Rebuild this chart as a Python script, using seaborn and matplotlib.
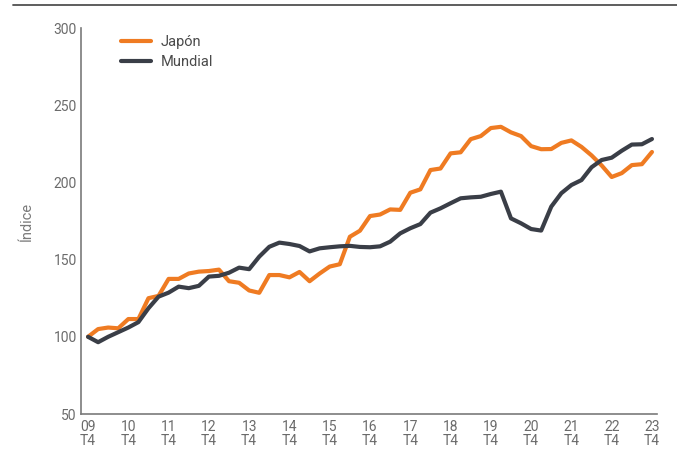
import matplotlib
matplotlib.use("Agg")
import matplotlib.pyplot as plt
import seaborn as sns
import pandas as pd
import numpy as np

years = ["09", "10", "11", "12", "13", "14", "15", "16", "17", "18", "19", "20", "21", "22", "23"]
tick_labels = [f"{y}\nT4" for y in years]

japon = [100, 105, 106, 105.5, 111.5, 111.5, 125, 126.5, 137.5, 137.5,
         141, 142.2, 142.6, 143.5, 136, 135, 130, 128.5, 140, 140,
         138.5, 142, 136, 141, 145.5, 147, 164.8, 168.7, 178.2, 179.2,
         182.5, 182.2, 193.3, 195.5, 208, 209, 218.8, 219.5, 228, 230,
         235.2, 236, 232.4, 230, 223.5, 221.5, 221.6, 225.6, 227.2, 223,
         217.5, 211, 203.5, 206, 211.2, 211.8, 219.7]

mundial = [100, 96.5, 100, 103, 106, 109.5, 118.5, 126, 128.6, 132.5,
           131.5, 133, 139, 139.5, 141.5, 144.8, 143.8, 151.9, 158.3, 161,
           160.1, 158.8, 155.3, 157.3, 158, 158.6, 158.9, 158.2, 158, 158.6,
           161.6, 167, 170.3, 173, 180.4, 183.2, 186.5, 189.7, 190.3, 190.7,
           192.5, 194, 176.7, 173.5, 169.8, 168.8, 184.3, 193, 198.3, 201.5,
           209.8, 214.5, 216, 220.5, 224.5, 224.7, 228.1]

series_names = ["Japón", "Mundial"]
colors = {"Japón": "#EF7B22", "Mundial": "#3A3E47"}

q = np.arange(len(japon))
df = pd.DataFrame({
    "q": np.concatenate([q, q]),
    "val": japon + mundial,
    "serie": ["Japón"] * len(japon) + ["Mundial"] * len(mundial),
})

sns.set_theme(style="white")
plt.rcParams["font.family"] = ["Roboto", "DejaVu Sans"]

fig = plt.figure(figsize=(6.77, 4.55), dpi=100)
ax = fig.add_axes([81 / 677, 1 - 414 / 455, (657 - 81) / 677, (414 - 28) / 455])

sns.lineplot(data=df, x="q", y="val", hue="serie", hue_order=series_names,
             palette=colors, linewidth=3.0, ax=ax, legend=True)

ax.set_xlim(-0.7, 56.5)
ax.set_ylim(50, 300)
ax.set_yticks([50, 100, 150, 200, 250, 300])
ax.set_xticks(np.arange(0, 57, 4))
ax.set_xticklabels(tick_labels, linespacing=1.05)
ax.tick_params(axis="both", length=0, labelsize=10, colors="#6b6b6b", pad=3)
ax.tick_params(axis="x", pad=4)
ax.set_xlabel("")
ax.set_ylabel("Índice", fontsize=10.5, color="#7a7a7a", labelpad=14)

for s in ["top", "right"]:
    ax.spines[s].set_visible(False)
for s in ["left", "bottom"]:
    ax.spines[s].set_color("#7a7a7a")
    ax.spines[s].set_linewidth(1.2)

leg = ax.legend(loc="upper left", bbox_to_anchor=(0.055, 1.005), frameon=False,
                fontsize=10.5, handlelength=2.0, handletextpad=0.7,
                labelspacing=0.45, borderaxespad=0.2)
for t in leg.get_texts():
    t.set_color("#4a4a4a")
for h in leg.get_lines():
    h.set_linewidth(3.0)

fig.add_artist(plt.Line2D([13 / 677, 1.0], [1 - 5 / 455, 1 - 5 / 455],
                          color="#505050", linewidth=1.3, transform=fig.transFigure))

fig.savefig("out.png", dpi=100)
